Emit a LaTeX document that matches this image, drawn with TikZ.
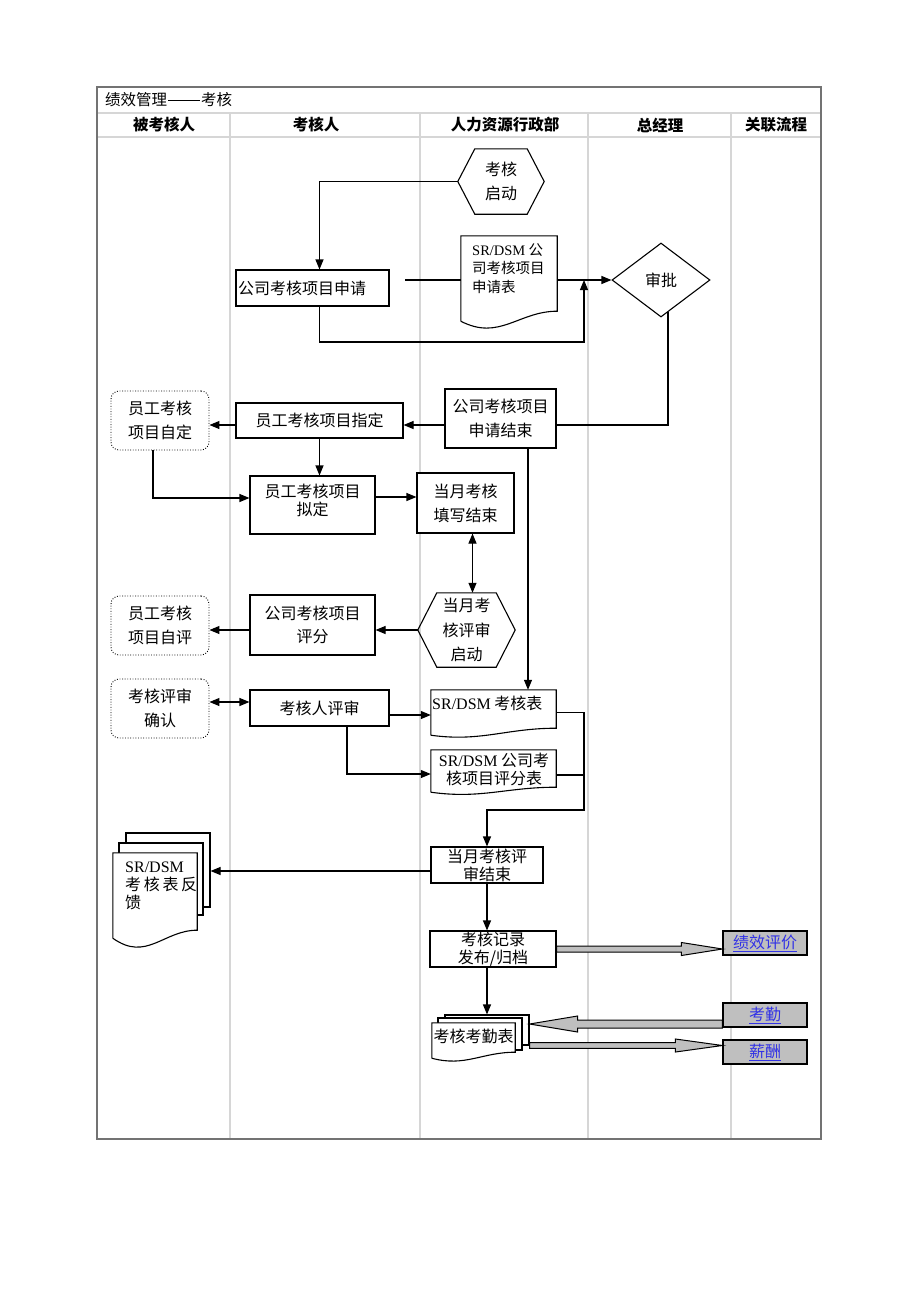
\documentclass[tikz,border=0pt]{standalone}
\usepackage{fontspec}
\setmainfont{Noto Sans CJK SC}
\newfontfamily\lat{Liberation Serif}
\usetikzlibrary{arrows.meta,calc,shapes.geometric}

\definecolor{lane}{gray}{0.84}
\definecolor{framec}{gray}{0.45}
\definecolor{boxgray}{gray}{0.75}
\definecolor{linkblue}{RGB}{50,50,230}

\tikzset{
 base/.style={font=\fontsize{16pt}{24pt}\selectfont, inner sep=0pt, align=center},
 sz/.style 2 args={minimum width=#1pt, minimum height=#2pt},
 box/.style={base, draw, line width=1.1pt, fill=white},
 ghost/.style={base, draw=none},
 dotbox/.style={base, draw, line width=0.9pt, dash pattern=on 0.9pt off 1.7pt, rounded corners=8pt},
 linkbox/.style={base, draw, line width=1.1pt, fill=boxgray, text=linkblue},
 hdr/.style={base, font=\fontsize{15.5pt}{18pt}\selectfont\bfseries},
 tight/.style={font=\fontsize{16pt}{18pt}\selectfont},
 arr/.style={line width=1.1pt, -{Triangle[length=10pt,width=8pt]}},
 darr/.style={line width=1.1pt, {Triangle[length=10pt,width=8pt]}-{Triangle[length=10pt,width=8pt]}},
 ln/.style={line width=1.1pt},
 fat/.style={line width=1pt, fill=boxgray, draw=black},
 outl/.style={line width=1.1pt},
}

% document outline: #1 node, #2 rise of right end, #3 dip control
\newcommand\docoutline[3]{%
 \filldraw[outl, fill=white] (#1.south west) -- (#1.north west) -- (#1.north east) -- ($(#1.south east)+(0,#2)$)
  .. controls ($(#1.south east)!0.4!(#1.south west)+(0,#2)$) and ($(#1.south west)!0.4!(#1.south east)+(0,-#3)$) .. (#1.south west);}
% hexagon outline: #1 node, #2 inset
\newcommand\hexoutline[2]{%
 \draw[outl] (#1.west) -- ($(#1.north west)+(#2,0)$) -- ($(#1.north east)-(#2,0)$) -- (#1.east)
  -- ($(#1.south east)-(#2,0)$) -- ($(#1.south west)+(#2,0)$) -- cycle;}
% fat arrows
\newcommand\fatR[5]{\filldraw[fat] let \p1=(#1), \p2=(#2) in
 (\x1,\y1+#3) -- (\x2-#5,\y1+#3) -- (\x2-#5,\y1+#4) -- (\x2,\y1) -- (\x2-#5,\y1-#4) -- (\x2-#5,\y1-#3) -- (\x1,\y1-#3) -- cycle;}
\newcommand\fatL[5]{\filldraw[fat] let \p1=(#1), \p2=(#2) in
 (\x1,\y1+#3) -- (\x2+#5,\y1+#3) -- (\x2+#5,\y1+#4) -- (\x2,\y1) -- (\x2+#5,\y1-#4) -- (\x2+#5,\y1-#3) -- (\x1,\y1-#3) -- cycle;}

\begin{document}
\begin{tikzpicture}[x=1pt,y=1pt]
\useasboundingbox (0,0) rectangle (920,-1302);
\fill[white] (0,0) rectangle (920,-1302);

% frame and lanes
\foreach \xx in {230,420,588,731} \draw[lane, line width=1.2pt] (\xx,-113) -- (\xx,-1139);
\draw[lane, line width=1.2pt] (97,-113) -- (821,-113);
\draw[lane, line width=1.2pt] (97,-137) -- (821,-137);
\draw[framec, line width=1.1pt] (97,-87) rectangle (821,-1139);

\node[base, font=\fontsize{15.5pt}{17pt}\selectfont, anchor=west] (title) at (105,-100) {绩效管理\hspace{1pt}\rule[5pt]{32pt}{0.8pt}\hspace{1pt}考核};
\node[hdr] (h1) at (164,-125) {被考核人};
\node[hdr] (h2) at (316,-125) {考核人};
\node[hdr] (h3) at (505,-125) {人力资源行政部};
\node[hdr] (h4) at (660,-125) {总经理};
\node[hdr] (h5) at (776,-125) {关联流程};

% top section
\node[ghost, sz={86}{65}, font=\fontsize{16pt}{24pt}\selectfont] (start) at (501,-181.5) {考核\\启动};
\hexoutline{start}{17}
\node[box, sz={153}{36}, text width=149pt, align=left] (apply) at (312.5,-288) {公司考核项目申请};
\node[ghost, sz={96}{85}] (form1) at (509,-278.5) {};
\docoutline{form1}{10}{20}
\node[base, font=\fontsize{14.5pt}{18.5pt}\selectfont, align=left, anchor=west] (form1t) at (472,-268.5) {{\lat SR/DSM} 公\\司考核项目\\申请表};
\node[draw, shape=diamond, base, line width=1.1pt, minimum width=98pt, minimum height=74pt] (appr) at (661,-280) {审批};

% second section
\node[box, sz={111}{59}] (appEnd) at (500.5,-418.5) {公司考核项目\\申请结束};
\node[box, sz={167}{35}] (assign) at (319.5,-420.5) {员工考核项目指定};
\node[dotbox, sz={98}{59}] (self1) at (160,-420.5) {员工考核\\项目自定};
\node[box, sz={125}{58}] (draft) at (312.5,-505) {};
\node[base, tight] (draftt) at (312.5,-500) {员工考核项目\\拟定};
\node[box, sz={97}{60}] (fill) at (465.5,-503) {当月考核\\填写结束};

% third section
\node[ghost, sz={97}{74}, font=\fontsize{16pt}{24.5pt}\selectfont] (revStart) at (466.5,-630) {当月考\\核评审\\启动};
\hexoutline{revStart}{19}
\node[box, sz={125}{60}, font=\fontsize{16pt}{23pt}\selectfont] (score) at (312.5,-625) {公司考核项目\\评分};
\node[dotbox, sz={98}{59}] (self2) at (160,-625.5) {员工考核\\项目自评};
\node[dotbox, sz={98}{59}] (confirm) at (160,-708.5) {考核评审\\确认};
\node[box, sz={139}{36}] (review) at (319.5,-708) {考核人评审};
\node[ghost, sz={125}{45}] (form2) at (493.5,-712.5) {};
\docoutline{form2}{7}{7}
\node[base, anchor=west] (form2t) at (432,-703) {{\lat SR/DSM} 考核表};
\node[ghost, sz={125}{42}] (form3) at (493.5,-771) {};
\docoutline{form3}{5}{7}
\node[base, tight] (form3t) at (494,-769) {{\lat SR/DSM} 公司考\\核项目评分表};

% fourth section
\node[box, sz={112}{36}, tight] (revEnd) at (487,-865) {当月考核评\\审结束};
\node[box, sz={84}{74}] (fb3) at (168,-870) {};
\node[box, sz={84}{72}] (fb2) at (161,-879) {};
\node[ghost, sz={84}{85}] (fb) at (155,-895.5) {};
\docoutline{fb}{8}{24}
\node[base, tight, align=left, anchor=west] (fbt) at (125,-886) {{\lat SR/DSM}\\考\,核\,表\,反\\馈};
\node[box, sz={126}{36}, tight] (pub) at (493,-949) {考核记录\\发布/归档};
\node[box, sz={84}{30}] (att3) at (487,-1030) {};
\node[box, sz={84}{32}] (att2) at (480,-1034) {};
\node[ghost, sz={83}{35}] (att) at (473.5,-1040.5) {};
\docoutline{att}{6}{9}
\node[base] (attt) at (473.5,-1036) {考核考勤表};

\node[linkbox, sz={84}{24}] (kpi) at (765,-943) {\underline{绩效评价}};
\node[linkbox, sz={84}{24}] (kq) at (765,-1015) {\underline{考勤}};
\node[linkbox, sz={84}{24}] (xc) at (765,-1052) {\underline{薪酬}};

% connectors
\draw[arr] (start.west) -| ([xshift=7pt]apply.north);
\coordinate (g1) at (405,-280);
\draw[ln] (g1) -- (g1 -| form1.west);
\draw[arr] (form1.east |- appr.west) -- (appr.west);
\coordinate (j1) at (584,-342);
\draw[arr] ([xshift=7pt]apply.south) |- (j1) -- (j1 |- appr.west);
\draw[ln] ($(appr.south)+(7,5.3)$) |- ([yshift=-6.5pt]appEnd.east);
\draw[arr] ([yshift=-6.5pt]appEnd.west) -- ([yshift=-4.5pt]assign.east);
\draw[arr] ([yshift=-4.5pt]assign.west) -- ([yshift=-4.5pt]self1.east);
\draw[arr] (assign.south) -- (assign.south |- draft.north);
\draw[arr] ([xshift=-7pt]self1.south) |- ([yshift=7pt]draft.west);
\coordinate (c1) at ([yshift=8pt]draft.east);
\draw[arr] (c1) -- (c1 -| fill.west);
\coordinate (c2) at ([xshift=7pt]fill.south);
\draw[darr] (c2) -- (c2 |- revStart.north);
\coordinate (c3) at ([xshift=27.5pt]appEnd.south);
\draw[arr] (c3) -- (c3 |- form2.north);
\draw[arr] (revStart.west) -- (revStart.west -| score.east);
\coordinate (c4) at ([yshift=-5pt]score.west);
\draw[arr] (c4) -- (c4 -| self2.east);
\coordinate (c5) at ([yshift=6pt]review.west);
\draw[darr] (c5) -- (c5 -| confirm.east);
\coordinate (c6) at ([yshift=-7pt]review.east);
\draw[arr] (c6) -- (c6 -| form2.west);
\draw[arr] ([xshift=27.5pt]review.south) |- ([yshift=-3pt]form3.west);
\coordinate (j2) at (584,-810);
\draw[arr] (form2.east) -| (j2) -| (revEnd.north);
\coordinate (c7) at ([yshift=-4pt]form3.east);
\draw[ln] (c7) -- (c7 -| j2);
\coordinate (c8) at ([yshift=-6pt]revEnd.west);
\draw[arr] (c8) -- (c8 -| fb3.east);
\draw[arr] (revEnd.south) -- (revEnd.south |- pub.north);
\coordinate (c9) at (revEnd.south |- pub.south);
\draw[arr] (c9) -- (c9 |- att3.north);

% fat arrows
\coordinate (f1) at (pub.east);
\coordinate (f1e) at (pub.east -| kpi.west);
\fatR{f1}{f1e}{3pt}{6.5pt}{41pt}
\coordinate (f2) at ([yshift=-9pt]kq.west);
\coordinate (f2e) at (f2 -| att3.east);
\fatL{f2}{f2e}{4pt}{8pt}{48pt}
\coordinate (f3) at ([yshift=-15.5pt]att3.east);
\coordinate (f3e) at (f3 -| xc.west);
\fatR{f3}{f3e}{2.8pt}{6.5pt}{47pt}
\end{tikzpicture}
\end{document}
